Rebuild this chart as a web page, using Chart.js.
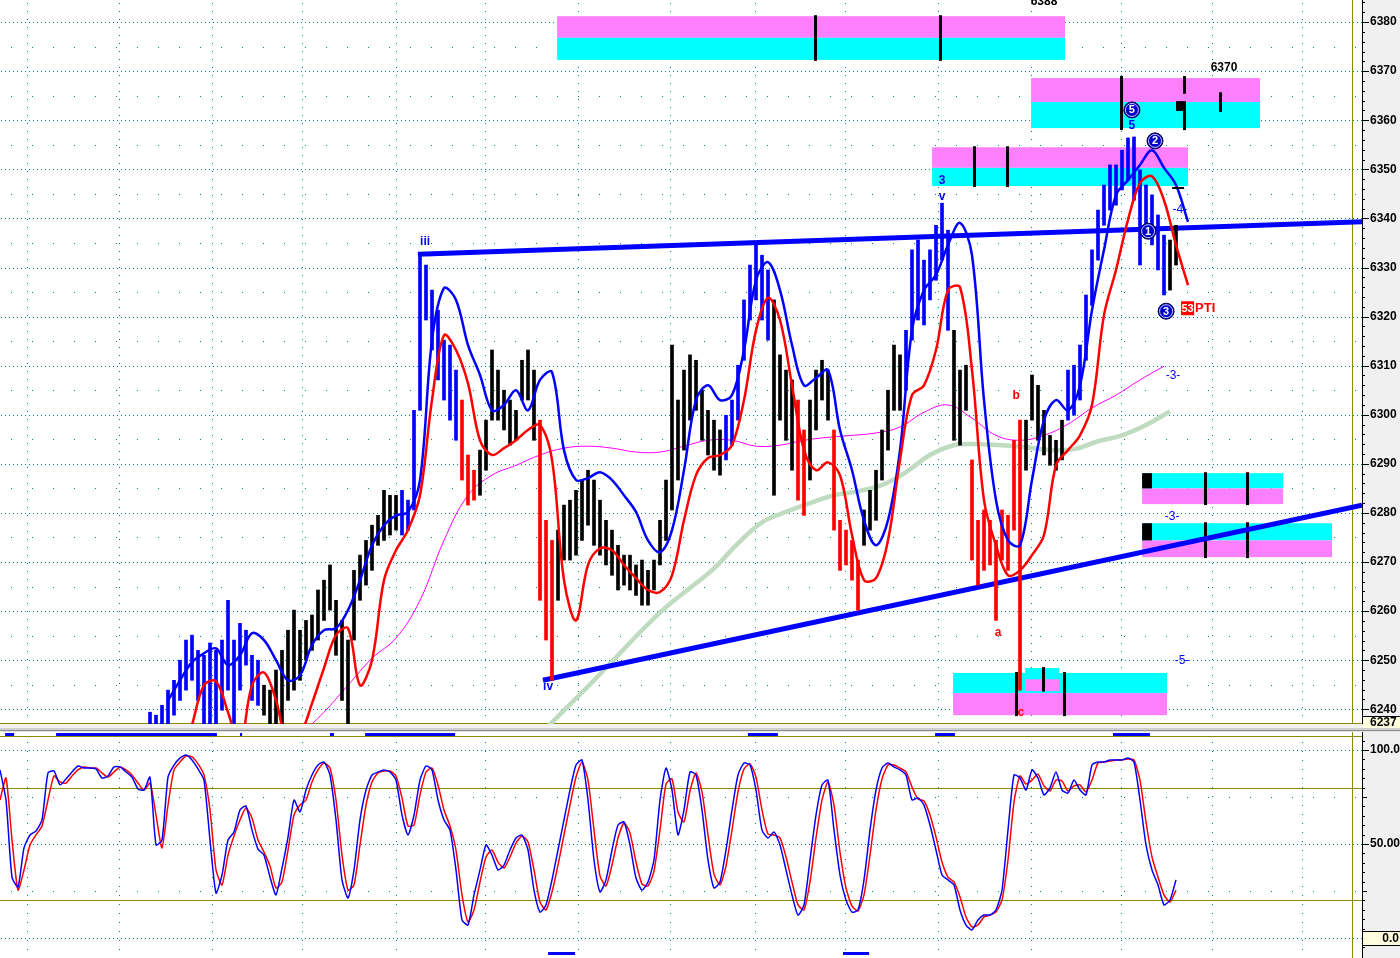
<!DOCTYPE html>
<html>
<head>
<meta charset="utf-8">
<script src="https://cdn.jsdelivr.net/npm/chart.js@4.4.1/dist/chart.umd.min.js"></script>
<style>
html, body { margin: 0; padding: 0; background: #fff; overflow: hidden; }
#wrap { position: relative; width: 1400px; height: 958px; }
canvas { position: absolute; left: 0; }
#main { top: 0; }
#osc { top: 732px; }
</style>
</head>
<body>
<div id="wrap">
  <canvas id="main" width="1400" height="732"></canvas>
  <canvas id="osc" width="1400" height="226"></canvas>
</div>
<script>
'use strict'

/* x is counted in bar slots: slot 0 is the left edge, slot 454 the price axis */

// price bars, one every 2 slots starting at slot 50
var barStart = 50;
var barStep = 2;
var barHigh = [
  6239.4, 6238.8, 6240.8, 6243.9, 6245.9, 6250.0, 6254.1, 6255.1, 6252.0, 6251.0,
  6253.5, 6252.0, 6254.1, 6262.2, 6254.1, 6257.5, 6256.1, 6251.0, 6250.0, 6244.9,
  6243.9, 6248.0, 6252.0, 6256.1, 6260.2, 6256.1, 6258.1, 6259.2, 6264.3, 6266.3,
  6269.4, 6262.2, 6258.1, 6254.1, 6268.3, 6271.4, 6274.4, 6277.5, 6279.5, 6284.6,
  6283.6, 6283.6, 6284.6, 6282.6, 6300.9, 6332.5, 6330.5, 6325.4, 6321.3, 6315.2,
  6314.2, 6309.1, 6303.0, 6291.8, 6288.7, 6292.8, 6298.9, 6313.2, 6309.1, 6305.0,
  6303.0, 6300.9, 6311.1, 6313.2, 6309.1, 6298.9, 6278.5, 6274.4, 6276.5, 6281.6,
  6282.6, 6284.6, 6286.7, 6288.7, 6286.7, 6282.6, 6278.5, 6276.5, 6273.4, 6271.4,
  6271.4, 6269.4, 6270.4, 6268.3, 6270.4, 6278.5, 6286.7, 6314.2, 6303.0, 6309.1,
  6312.2, 6311.1, 6305.0, 6300.9, 6298.9, 6296.9, 6299.9, 6303.0, 6310.1, 6323.4,
  6330.5, 6335.0, 6332.5, 6329.5, 6323.4, 6312.2, 6309.1, 6307.1, 6303.0, 6296.9,
  6303.0, 6309.1, 6311.1, 6309.1, 6296.9, 6278.5, 6276.5, 6274.4, 6270.4, 6280.6,
  6284.6, 6288.7, 6296.9, 6305.0, 6314.2, 6312.2, 6317.2, 6333.6, 6335.6, 6331.5,
  6333.6, 6338.6, 6343.1, 6337.6, 6317.2, 6309.1, 6310.1, 6290.8, 6278.5, 6280.6,
  6278.5, 6274.4, 6280.6, 6279.5, 6294.8, 6298.9, 6298.9, 6308.1, 6306.0, 6300.9,
  6295.8, 6294.8, 6298.9, 6309.1, 6310.1, 6314.2, 6324.4, 6333.6, 6341.7, 6346.8,
  6350.9, 6350.9, 6353.9, 6356.4, 6356.6, 6349.9, 6346.8, 6344.8, 6340.7, 6336.6,
  6335.6, 6338.6
];
var barLow = [
  6236.0, 6236.0, 6236.0, 6236.0, 6238.8, 6241.8, 6243.9, 6245.9, 6241.8, 6236.0,
  6236.0, 6236.0, 6239.8, 6243.9, 6236.0, 6243.9, 6249.0, 6241.8, 6240.8, 6238.8,
  6236.0, 6236.0, 6236.0, 6241.8, 6243.9, 6245.9, 6250.0, 6252.0, 6254.1, 6258.1,
  6260.2, 6251.0, 6241.8, 6236.0, 6254.1, 6262.2, 6265.3, 6268.3, 6273.4, 6274.4,
  6275.5, 6276.5, 6275.5, 6276.5, 6280.6, 6300.9, 6319.3, 6313.2, 6307.1, 6303.0,
  6298.9, 6294.8, 6286.7, 6281.6, 6282.6, 6283.6, 6288.7, 6298.9, 6298.9, 6296.9,
  6293.8, 6294.8, 6303.0, 6303.0, 6294.8, 6262.2, 6254.1, 6245.9, 6262.2, 6270.4,
  6270.4, 6271.4, 6274.4, 6277.5, 6273.4, 6271.4, 6269.4, 6267.3, 6264.3, 6265.3,
  6264.3, 6263.2, 6261.2, 6261.2, 6264.3, 6269.4, 6274.4, 6280.6, 6286.7, 6292.8,
  6298.9, 6300.9, 6294.8, 6291.8, 6288.7, 6287.7, 6290.8, 6293.8, 6298.9, 6311.1,
  6319.3, 6323.4, 6319.3, 6315.2, 6283.6, 6298.9, 6294.8, 6288.7, 6282.6, 6279.5,
  6286.7, 6296.9, 6303.0, 6298.9, 6276.5, 6268.3, 6269.4, 6266.3, 6260.2, 6273.4,
  6276.5, 6278.5, 6286.7, 6292.8, 6300.9, 6300.9, 6305.0, 6315.2, 6319.3, 6318.3,
  6323.4, 6327.4, 6331.5, 6317.2, 6294.8, 6293.8, 6300.9, 6270.4, 6265.3, 6268.3,
  6269.4, 6258.1, 6270.4, 6268.3, 6276.5, 6243.9, 6288.7, 6298.9, 6294.8, 6291.8,
  6289.7, 6288.7, 6290.8, 6298.9, 6299.9, 6303.0, 6311.1, 6322.3, 6331.5, 6338.6,
  6341.7, 6342.7, 6345.8, 6347.8, 6343.7, 6330.5, 6337.6, 6334.6, 6329.5, 6324.4,
  6325.4, 6330.5
];
// bar colour runs: b = blue, k = black, r = red
var barColorRuns = [
  ['b', 19], ['k', 23], ['b', 10], ['r', 3], ['k', 10], ['r', 3], ['k', 28], ['b', 8], ['k', 4], ['r', 2],
  ['k', 4], ['r', 5], ['k', 7], ['b', 8], ['k', 3], ['r', 9], ['k', 7], ['b', 17], ['k', 2]
];

// fast (blue) average, every 4 slots from slot 56
var fastStart = 56;
var fastMA = [
  6241.8, 6245.9, 6249.6, 6251.4, 6252.4, 6249.0, 6251.0, 6255.5, 6254.1, 6250.0,
  6245.9, 6246.9, 6253.1, 6256.1, 6256.5, 6260.2, 6266.3, 6273.4, 6277.5, 6279.5,
  6280.2, 6286.7, 6315.2, 6325.8, 6323.4, 6314.2, 6308.1, 6300.9, 6302.0, 6305.0,
  6300.9, 6307.1, 6308.7, 6292.8, 6286.7, 6287.1, 6288.3, 6286.7, 6283.6, 6280.2,
  6274.4, 6272.0, 6276.5, 6288.7, 6303.0, 6306.0, 6303.0, 6304.0, 6313.2, 6327.4,
  6331.1, 6325.4, 6314.2, 6306.0, 6307.5, 6309.1, 6296.9, 6288.7, 6278.5, 6273.4,
  6278.5, 6292.8, 6317.2, 6325.4, 6328.5, 6334.6, 6339.1, 6332.5, 6303.0, 6282.6,
  6274.4, 6273.4, 6286.7, 6298.9, 6303.0, 6300.9, 6306.0, 6321.3, 6333.6, 6344.8,
  6347.8, 6350.9, 6353.9, 6350.3, 6346.8, 6339.3
];
// slow (red) average, every 4 slots from slot 64
var slowStart = 64;
var slowMA = [
  6236.8, 6244.9, 6245.7, 6239.4, 6232.7, 6244.9, 6247.5, 6241.8, 6232.7, 6234.7,
  6241.2, 6248.4, 6255.1, 6256.5, 6244.9, 6250.0, 6266.3, 6272.4, 6276.5, 6283.6,
  6303.0, 6316.2, 6313.2, 6306.4, 6294.8, 6291.8, 6293.2, 6294.8, 6296.9, 6297.9,
  6290.8, 6266.3, 6258.1, 6269.4, 6272.8, 6272.4, 6269.4, 6266.7, 6264.3, 6263.9,
  6267.3, 6278.5, 6287.7, 6291.2, 6291.8, 6293.8, 6303.0, 6317.2, 6323.8, 6319.3,
  6306.0, 6292.8, 6288.7, 6290.3, 6287.7, 6275.5, 6266.3, 6266.7, 6274.4, 6290.8,
  6304.0, 6306.0, 6313.2, 6325.4, 6326.0, 6309.1, 6282.6, 6273.4, 6267.3, 6268.3,
  6271.4, 6275.5, 6289.7, 6292.8, 6295.8, 6302.0, 6320.3, 6329.5, 6339.7, 6347.2,
  6348.6, 6343.7, 6334.6, 6326.4
];
// magenta average, every 8 slots from slot 100
var magStart = 100;
var magMA = [
  6234.7, 6239.4, 6244.9, 6250.4, 6254.5, 6262.2, 6274.4, 6283.6, 6287.7, 6289.7,
  6291.8, 6293.2, 6293.6, 6293.2, 6292.4, 6292.4, 6293.6, 6294.8, 6294.8, 6293.6,
  6293.8, 6294.8, 6295.4, 6295.8, 6296.3, 6297.5, 6300.5, 6302.0, 6299.3, 6295.8,
  6294.8, 6295.8, 6298.1, 6301.4, 6304.0, 6307.1, 6309.9
];
// pale green average, every 8 slots from slot 182
var greenStart = 182;
var greenMA = [
  6236.1, 6241.0, 6245.9, 6251.0, 6256.1, 6260.8, 6264.7, 6268.7, 6273.8, 6278.1,
  6280.2, 6282.0, 6283.6, 6284.4, 6285.7, 6288.3, 6291.8, 6293.8, 6294.0, 6293.8,
  6293.4, 6292.8, 6293.0, 6294.6, 6295.8, 6297.9, 6300.7
];
// trend lines [slot, price]
var upperTrend = [[139.3, 6332.7], [454, 6339.3]];
var lowerTrend = [[181, 6245.9], [454, 6281.6]];

// oscillator, every 2 slots from slot 0
var oscFast = [
  89.4, 73.4, 32.4, 27.1, 47.9, 54.8, 56.9, 62.8, 87.8, 88.8,
  81.4, 84.6, 88.3, 91.5, 90.4, 90.4, 89.9, 85.1, 86.2, 91.0,
  91.0, 88.3, 85.6, 79.3, 78.7, 85.6, 49.5, 52.1, 85.6, 92.0,
  95.7, 97.3, 94.7, 89.9, 84.0, 52.1, 23.9, 33.5, 52.1, 56.4,
  68.1, 70.2, 57.4, 47.3, 44.1, 32.4, 22.9, 37.2, 53.7, 73.4,
  67.0, 78.7, 86.7, 92.0, 93.6, 86.7, 62.8, 30.9, 21.3, 36.2,
  62.8, 78.7, 86.7, 88.3, 89.4, 88.3, 84.0, 65.4, 54.8, 65.4,
  84.0, 91.5, 89.4, 73.4, 62.8, 57.4, 36.2, 9.6, 6.9, 22.9,
  36.2, 49.5, 44.1, 36.2, 38.8, 46.8, 53.2, 54.8, 46.8, 25.5,
  13.8, 17.6, 30.9, 46.8, 62.8, 78.7, 92.0, 94.7, 73.4, 41.5,
  24.5, 30.9, 46.8, 60.1, 61.7, 49.5, 31.9, 25.5, 29.8, 41.5,
  73.4, 90.4, 78.7, 54.8, 68.1, 88.3, 86.7, 68.1, 41.5, 26.6,
  29.8, 46.8, 68.1, 86.7, 93.1, 92.0, 78.7, 57.4, 53.2, 56.4,
  49.5, 36.2, 22.9, 12.2, 17.6, 41.5, 65.4, 81.4, 84.0, 57.4,
  33.5, 20.2, 13.8, 14.9, 30.9, 57.4, 78.7, 90.4, 93.1, 91.0,
  89.4, 86.7, 73.4, 74.5, 70.7, 60.1, 46.8, 33.5, 30.9, 28.2,
  14.9, 6.9, 4.3, 9.6, 12.2, 12.2, 14.9, 25.5, 57.4, 86.7,
  85.1, 78.7, 89.4, 85.1, 76.1, 79.8, 88.3, 78.7, 77.1, 84.0,
  78.7, 76.1, 92.0, 93.6, 93.6, 94.7, 94.7, 94.7, 95.7, 93.6,
  73.4, 49.5, 36.2, 28.2, 17.6, 20.2, 30.9
];
var oscSlow = [
  73.4, 85.1, 52.1, 25.5, 36.2, 49.5, 54.8, 59.6, 73.4, 86.2,
  83.0, 82.4, 86.2, 89.4, 91.0, 90.4, 90.4, 87.8, 85.6, 88.3,
  91.0, 89.4, 86.7, 82.4, 78.7, 82.4, 65.4, 47.9, 70.7, 89.4,
  93.6, 96.8, 96.3, 92.6, 86.7, 68.1, 36.2, 28.2, 44.1, 54.3,
  62.8, 69.1, 63.8, 52.1, 45.7, 38.3, 26.6, 29.8, 46.8, 65.4,
  70.7, 73.4, 83.0, 89.4, 93.1, 90.4, 73.4, 44.1, 25.5, 28.2,
  49.5, 70.7, 83.0, 87.8, 88.8, 88.8, 86.2, 74.5, 59.6, 60.1,
  76.1, 88.3, 90.4, 81.4, 68.1, 59.6, 46.8, 22.9, 8.5, 14.9,
  29.8, 43.1, 46.8, 40.4, 37.2, 43.1, 50.5, 54.3, 51.1, 36.2,
  19.1, 14.9, 24.5, 38.8, 54.8, 70.7, 85.6, 93.6, 84.0, 57.4,
  33.0, 27.7, 38.8, 53.2, 61.2, 55.9, 40.4, 28.7, 27.7, 35.6,
  57.4, 81.9, 84.6, 67.0, 61.7, 78.2, 87.8, 77.7, 54.8, 34.0,
  28.2, 38.3, 57.4, 77.7, 89.9, 92.6, 85.6, 68.1, 55.3, 54.8,
  53.2, 43.1, 29.8, 17.6, 14.9, 29.8, 53.2, 73.4, 83.0, 70.7,
  45.7, 26.6, 17.0, 14.4, 22.9, 44.1, 68.1, 84.6, 92.0, 92.0,
  90.4, 88.3, 80.3, 73.9, 72.9, 65.4, 53.7, 40.4, 32.4, 29.8,
  21.8, 11.2, 5.9, 6.9, 11.2, 12.2, 13.8, 20.2, 41.5, 72.3,
  86.2, 81.9, 84.0, 87.2, 80.9, 78.2, 84.0, 83.5, 78.2, 80.9,
  81.4, 77.7, 84.0, 93.1, 93.6, 94.1, 94.7, 94.7, 95.2, 94.7,
  84.0, 61.7, 43.1, 32.4, 22.9, 19.1, 25.5
];
// signal strips on the oscillator pane, slot ranges
var topSignals = [[1.7, 4.7], [18.7, 72.3], [80, 80.7], [110, 111.3], [121.7, 151.7], [249.3, 259.3], [311.7, 318.3], [371, 383.3]];
var bottomSignals = [[182.7, 191.7], [281, 289.7]];

var priceTicks = [6240, 6250, 6260, 6270, 6280, 6290, 6300, 6310, 6320, 6330, 6340, 6350, 6360, 6370, 6380];
var timeGrid = [9, 39.7, 70.7, 100.7, 132, 161.7, 192.7, 223.3, 251.7, 281.7, 312.7, 343.7, 373.7, 404, 434];

// target zones: slot from, slot to, upper edge, split, lower edge, colour of upper half
var zones = [
  [185.7, 355, 6381.2, 6376.8, 6372.3, 'pink'],
  [343.7, 420, 6368.6, 6363.7, 6358.4, 'pink'],
  [310.7, 396, 6354.5, 6350.3, 6346.6, 'pink'],
  [380.7, 427.7, 6288.1, 6285.0, 6281.8, 'cyan'],
  [380.7, 444, 6277.9, 6274.4, 6271.0, 'cyan'],
  [317.7, 389, 6247.4, 6243.3, 6238.8, 'cyan'],
  [341.7, 353, 6248.4, 6246.1, 6243.7, 'cyan']
];
var zoneTicks = [
  [271.7, 6381.4, 6372.1], [313.3, 6381.4, 6372.1],
  [373.7, 6369.0, 6358.0], [394.7, 6369.0, 6365.4], [394.7, 6362.0, 6358.0], [406.7, 6365.7, 6361.7],
  [324.7, 6354.7, 6346.4], [335.7, 6354.7, 6346.4],
  [401.7, 6288.3, 6281.6], [415.7, 6288.3, 6281.6],
  [401.7, 6278.1, 6270.8], [415.7, 6278.1, 6270.8],
  [338.7, 6247.6, 6238.6], [347.7, 6248.6, 6243.6], [354.7, 6247.6, 6238.6]
];
var zoneBlocks = [[392, 395.3, 6363.9, 6361.9], [380.7, 384, 6288.1, 6285.0], [380.7, 384, 6277.9, 6274.4]];

// wave labels: text, slot, price, colour
var waveLabels = [
  ['iii', 141.7, 6335.2, 'b'], ['iv', 182.7, 6244.7, 'b'],
  ['3', 314, 6347.6, 'b'], ['v', 314, 6344.4, 'b'], ['5', 377.3, 6358.8, 'b'],
  ['-3-', 391, 6307.9, 'b'], ['-3-', 390.7, 6279.3, 'b'], ['-5-', 394, 6250.0, 'b'], ['-4-', 393.3, 6341.8, 'b'],
  ['b', 338.7, 6303.8, 'r'], ['a', 332.7, 6255.7, 'r'], ['c', 340.3, 6239.4, 'r']
];
var circleLabels = [['5', 377.3, 6362.1], ['2', 385, 6355.8], ['1', 382.7, 6337.4], ['3', 388.7, 6321.1]];
var priceNotes = [['6388', 348, 6383.5], ['6370', 408, 6370.8]];

var FONT = '"Liberation Sans", Arial, sans-serif';
var PINK = '#ff80ff', CYAN = '#00ffff', OLIVE = '#8c8c00', TEAL = '#008080';

function series(vals, start, step) {
  return vals.map(function (v, i) { return {x: start + i * step, y: v}; });
}
function pairs(list) {
  return list.map(function (p) { return {x: p[0], y: p[1]}; });
}

var barColors = [];
barColorRuns.forEach(function (r) {
  var c = r[0] == 'b' ? '#0000ff' : (r[0] == 'r' ? '#ff0000' : '#000000');
  for (var i = 0; i < r[1]; i++) barColors.push(c);
});
var barData = barHigh.map(function (h, k) {
  return {x: barStart + barStep * k, y: [barLow[k], h]};
});

var mainDecor = {
  id: 'mainDecor',
  beforeDraw: function (chart) {
    var ctx = chart.ctx, a = chart.chartArea, w = chart.width, b = a.bottom;
    ctx.save();
    ctx.fillStyle = '#ffffff';
    ctx.fillRect(0, 0, w, chart.height);
    ctx.fillStyle = '#f0f0f0';
    ctx.fillRect(a.right, 0, w - a.right, b);
    ctx.fillStyle = '#f2f2f2'; ctx.fillRect(0, b, w, 4);
    ctx.fillStyle = '#d0d0d0'; ctx.fillRect(0, b + 4, w, 2);
    ctx.fillStyle = '#8c8c8c'; ctx.fillRect(0, b + 6, w, 1);
    ctx.fillStyle = '#e4e4e4'; ctx.fillRect(0, b + 7, w, 1);
    ctx.restore();
  },
  beforeDatasetsDraw: function (chart) {
    var ctx = chart.ctx, a = chart.chartArea, xs = chart.scales.x, ys = chart.scales.y;
    var X = function (v) { return xs.getPixelForValue(v); };
    var Y = function (v) { return ys.getPixelForValue(v); };
    ctx.save();
    ctx.fillStyle = TEAL;
    priceTicks.forEach(function (v) {
      var y = Math.round(Y(v));
      for (var x = 1; x < a.right; x += 4) ctx.fillRect(x, y, 1, 1);
      var yh = Math.round(Y(v + 5));
      if (yh > a.top) for (var x2 = 11; x2 < a.right; x2 += 21) ctx.fillRect(x2, yh, 1, 1);
    });
    timeGrid.forEach(function (t) {
      var x = Math.round(X(t));
      for (var y = 3; y < a.bottom; y += 8) ctx.fillRect(x, y, 1, 1);
    });
    // olive frame lines
    ctx.fillStyle = OLIVE;
    ctx.fillRect(Math.round(X(450.7)), 0, 1, a.bottom);
    ctx.fillRect(0, a.bottom - 1, a.right, 1);
    // zones
    zones.forEach(function (z) {
      var x0 = X(z[0]), x1 = X(z[1]);
      ctx.fillStyle = z[5] == 'pink' ? PINK : CYAN;
      ctx.fillRect(x0, Y(z[2]), x1 - x0, Y(z[3]) - Y(z[2]));
      ctx.fillStyle = z[5] == 'pink' ? CYAN : PINK;
      ctx.fillRect(x0, Y(z[3]), x1 - x0, Y(z[4]) - Y(z[3]));
    });
    ctx.fillStyle = '#000000';
    zoneTicks.forEach(function (t) {
      ctx.fillRect(Math.round(X(t[0])) - 1, Y(t[1]), 3, Y(t[2]) - Y(t[1]));
    });
    zoneBlocks.forEach(function (z) {
      ctx.fillRect(X(z[0]), Y(z[2]), X(z[1]) - X(z[0]), Y(z[3]) - Y(z[2]));
    });
    ctx.restore();
  },
  afterDatasetsDraw: function (chart) {
    var ctx = chart.ctx, xs = chart.scales.x, ys = chart.scales.y;
    var X = function (v) { return xs.getPixelForValue(v); };
    var Y = function (v) { return ys.getPixelForValue(v); };
    ctx.save();
    ctx.textAlign = 'center';
    ctx.textBaseline = 'middle';
    waveLabels.forEach(function (l) {
      ctx.fillStyle = l[3] == 'r' ? '#ff0000' : '#0000ff';
      ctx.font = (l[0].length > 1 && l[0] != 'iii' && l[0] != 'iv' ? '' : 'bold ') + '12px ' + FONT;
      ctx.fillText(l[0], X(l[1]), Y(l[2]));
    });
    circleLabels.forEach(function (c) {
      var x = X(c[1]), y = Y(c[2]);
      ctx.beginPath();
      ctx.arc(x, y, 8, 0, Math.PI * 2);
      ctx.fillStyle = '#0000c8';
      ctx.fill();
      ctx.lineWidth = 1;
      ctx.strokeStyle = '#000040';
      ctx.stroke();
      ctx.beginPath();
      ctx.arc(x, y, 6.5, 0, Math.PI * 2);
      ctx.strokeStyle = '#c8c8ff';
      ctx.stroke();
      ctx.fillStyle = '#ffffff';
      ctx.font = 'bold 11px ' + FONT;
      ctx.fillText(c[0], x, y + 0.5);
    });
    // PTI flag next to the last swing
    var px = X(395.7), py = Y(6321.7);
    ctx.fillStyle = '#ff0000';
    ctx.fillRect(px - 6, py - 7, 13, 14);
    ctx.fillStyle = '#ffffff';
    ctx.font = 'bold 11px ' + FONT;
    ctx.fillText('53', px + 0.5, py + 0.5);
    ctx.fillStyle = '#ff0000';
    ctx.font = 'bold 13px ' + FONT;
    ctx.textAlign = 'left';
    ctx.fillText('PTI', px + 8, py);
    // small black marker near the top
    ctx.fillStyle = '#000000';
    ctx.fillRect(X(390.7), Math.round(Y(6346.2)) - 1, X(394.7) - X(390.7), 2);
    // price notes
    ctx.textAlign = 'center';
    ctx.font = 'bold 12px ' + FONT;
    priceNotes.forEach(function (n) {
      ctx.textBaseline = n[0] == '6388' ? 'alphabetic' : 'middle';
      ctx.fillText(n[0], X(n[1]), Y(n[2]));
    });
    ctx.restore();
  },
  afterDraw: function (chart) {
    var ctx = chart.ctx, a = chart.chartArea, ys = chart.scales.y;
    ctx.save();
    ctx.fillStyle = '#000000';
    ctx.fillRect(a.right, 0, 1, a.bottom);
    for (var v = 6238; v <= 6384; v += 2) {
      var y = Math.round(ys.getPixelForValue(v));
      var len = v % 10 == 0 ? 6 : (v % 5 == 0 ? 4 : 2);
      ctx.fillRect(a.right + 1, y, len, 1);
    }
    var yb = a.bottom - 8;
    ctx.fillStyle = '#ffffe0';
    ctx.fillRect(a.right + 1, yb, chart.width - a.right, 12);
    ctx.fillStyle = '#000000';
    ctx.fillRect(a.right + 1, yb, chart.width - a.right, 1);
    ctx.font = 'bold 12px ' + FONT;
    ctx.textBaseline = 'middle';
    ctx.textAlign = 'left';
    ctx.fillText('6237', a.right + 8, yb + 7);
    ctx.restore();
  }
};

new Chart(document.getElementById('main'), {
  type: 'line',
  data: {
    datasets: [
      {data: series(greenMA, greenStart, 8), borderColor: '#c0dcc0', borderWidth: 4.5, pointRadius: 0, tension: 0.4, clip: 0, order: 10},
      {data: series(magMA, magStart, 8), borderColor: '#ff00ff', borderWidth: 1, pointRadius: 0, tension: 0.4, clip: 0, order: 9},
      {data: pairs(upperTrend), borderColor: '#0000ff', borderWidth: 5, pointRadius: 0, clip: 0, order: 8},
      {data: pairs(lowerTrend), borderColor: '#0000ff', borderWidth: 5, pointRadius: 0, clip: 0, order: 8},
      {type: 'bar', data: barData, backgroundColor: barColors, barThickness: 3, grouped: false, clip: 0, order: 7},
      {data: series(fastMA, fastStart, 4), borderColor: '#0000ff', borderWidth: 2.5, pointRadius: 0, tension: 0.35, clip: 0, order: 6},
      {data: series(slowMA, slowStart, 4), borderColor: '#ff0000', borderWidth: 2.5, pointRadius: 0, tension: 0.35, clip: 0, order: 5}
    ]
  },
  options: {
    animation: false,
    responsive: false,
    devicePixelRatio: 1,
    events: [],
    layout: {padding: {left: 0, right: 0, top: 0, bottom: 8}},
    plugins: {legend: {display: false}, tooltip: {enabled: false}},
    scales: {
      x: {type: 'linear', display: false, offset: false, min: 0, max: 454, grid: {offset: false}},
      y: {
        position: 'right', min: 6237, max: 6384.5,
        grid: {display: false, drawTicks: false},
        border: {display: false},
        afterBuildTicks: function (s) { s.ticks = priceTicks.map(function (v) { return {value: v}; }); },
        afterFit: function (s) { s.width = 38; s.paddingTop = 0; s.paddingBottom = 0; },
        ticks: {padding: 8, color: '#000000', autoSkip: false, font: {family: 'Liberation Sans', size: 12, weight: 'bold'},
          callback: function (v) { return String(v); }}
      }
    }
  },
  plugins: [mainDecor]
});

var oscDecor = {
  id: 'oscDecor',
  beforeDraw: function (chart) {
    var ctx = chart.ctx, a = chart.chartArea;
    ctx.save();
    ctx.fillStyle = '#ffffff';
    ctx.fillRect(0, 0, chart.width, chart.height);
    ctx.fillStyle = '#f0f0f0';
    ctx.fillRect(a.right, 0, chart.width - a.right, chart.height);
    ctx.restore();
  },
  beforeDatasetsDraw: function (chart) {
    var ctx = chart.ctx, a = chart.chartArea, xs = chart.scales.x, ys = chart.scales.y;
    var X = function (v) { return xs.getPixelForValue(v); };
    var Y = function (v) { return ys.getPixelForValue(v); };
    ctx.save();
    ctx.fillStyle = TEAL;
    [100, 50, 0].forEach(function (v) {
      var y = Math.round(Y(v));
      for (var x = 1; x < a.right; x += 4) ctx.fillRect(x, y, 1, 1);
    });
    [75, 25].forEach(function (v) {
      var y = Math.round(Y(v));
      for (var x = 11; x < a.right; x += 21) ctx.fillRect(x, y, 1, 1);
    });
    timeGrid.forEach(function (t) {
      var x = Math.round(X(t));
      for (var y = 10; y < a.bottom; y += 9) ctx.fillRect(x, y, 1, 1);
    });
    ctx.fillStyle = OLIVE;
    [80, 20, 107.45].forEach(function (v) {
      ctx.fillRect(0, Math.round(Y(v)), a.right, 1);
    });
    ctx.fillRect(Math.round(X(450.7)), 0, 1, a.bottom);
    ctx.fillStyle = '#0000ff';
    topSignals.forEach(function (s) {
      ctx.fillRect(X(s[0]), Math.round(Y(108.5)) - 1, X(s[1]) - X(s[0]), 3);
    });
    bottomSignals.forEach(function (s) {
      ctx.fillRect(X(s[0]), Math.round(Y(-8)) - 1, X(s[1]) - X(s[0]), 3);
    });
    ctx.restore();
  },
  afterDraw: function (chart) {
    var ctx = chart.ctx, a = chart.chartArea, ys = chart.scales.y;
    ctx.save();
    ctx.fillStyle = '#000000';
    ctx.fillRect(a.right, 0, 1, a.bottom);
    for (var v = -5; v <= 105; v += 5) {
      var y = Math.round(ys.getPixelForValue(v));
      var len = v % 50 == 0 ? 6 : (v % 25 == 0 ? 4 : 2);
      ctx.fillRect(a.right + 1, y, len, 1);
    }
    var y0 = Math.round(ys.getPixelForValue(0));
    ctx.fillStyle = '#ffffe0';
    ctx.fillRect(a.right + 1, y0 - 7, chart.width - a.right, 15);
    ctx.fillStyle = '#000000';
    ctx.fillRect(a.right + 1, y0 - 7, chart.width - a.right, 1);
    ctx.fillRect(a.right + 1, y0 + 7, chart.width - a.right, 1);
    ctx.font = 'bold 12px ' + FONT;
    ctx.textBaseline = 'middle';
    ctx.textAlign = 'right';
    ctx.fillText('0.0', chart.width - 1, y0 + 1);
    ctx.restore();
  }
};

new Chart(document.getElementById('osc'), {
  type: 'line',
  data: {
    datasets: [
      {data: series(oscSlow, 0, 2), borderColor: '#ff0000', borderWidth: 1.5, pointRadius: 0, tension: 0.2, clip: 0, order: 2},
      {data: series(oscFast, 0, 2), borderColor: '#0000ff', borderWidth: 1.5, pointRadius: 0, tension: 0.2, clip: 0, order: 1}
    ]
  },
  options: {
    animation: false,
    responsive: false,
    devicePixelRatio: 1,
    events: [],
    layout: {padding: 0},
    plugins: {legend: {display: false}, tooltip: {enabled: false}},
    scales: {
      x: {type: 'linear', display: false, min: 0, max: 454},
      y: {
        position: 'right', min: -10.64, max: 109.57,
        grid: {display: false, drawTicks: false},
        border: {display: false},
        afterBuildTicks: function (s) { s.ticks = [{value: 100}, {value: 50}]; },
        afterFit: function (s) { s.width = 38; s.paddingTop = 0; s.paddingBottom = 0; },
        ticks: {padding: 8, color: '#000000', autoSkip: false, font: {family: 'Liberation Sans', size: 12, weight: 'bold'},
          callback: function (v) { return v == 100 ? '100.0' : '50.00'; }}
      }
    }
  },
  plugins: [oscDecor]
});
</script>
</body>
</html>
